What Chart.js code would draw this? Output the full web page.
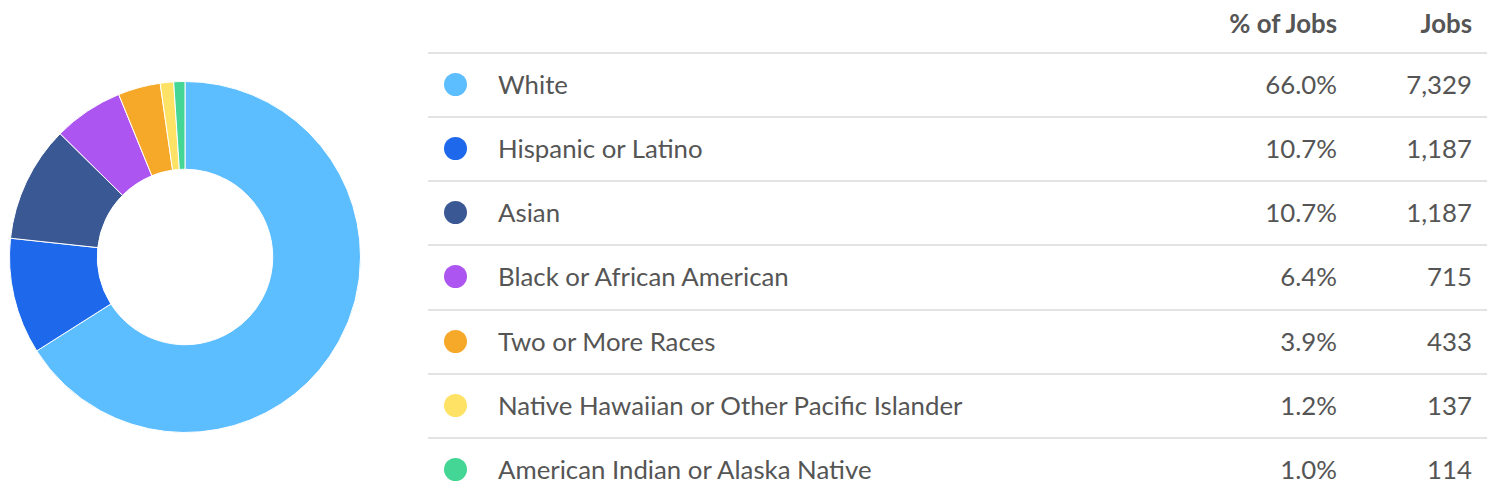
<!DOCTYPE html>
<html>
<head>
<meta charset="utf-8">
<script src="https://cdn.jsdelivr.net/npm/chart.js@4.4.0/dist/chart.umd.min.js"></script>
<style>
  html, body { margin: 0; padding: 0; background: #fff; width: 1497px; height: 499px; overflow: hidden; font-family: Lato, "Open Sans", sans-serif; color: #555; }
  #chartBox { position: absolute; left: 9px; top: 81px; width: 352px; height: 352px; }
  .line { position: absolute; left: 428px; width: 1059px; height: 2px; background: #e3e3e3; }
  .cell { position: absolute; font-size: 25.8px; line-height: 30px; white-space: nowrap; }
  .hdr { font-weight: bold; }
  .dot { position: absolute; width: 23px; height: 23px; border-radius: 50%; }
</style>
</head>
<body>
<div id="chartBox"><canvas id="c" width="352" height="352"></canvas></div>
<div id="table"></div>
<script>
const categories = ["White", "Hispanic or Latino", "Asian", "Black or African American", "Two or More Races", "Native Hawaiian or Other Pacific Islander", "American Indian or Alaska Native"];
const jobs = [7329, 1187, 1187, 715, 433, 137, 114];
const pctLabels = ["66.0%", "10.7%", "10.7%", "6.4%", "3.9%", "1.2%", "1.0%"];
const jobLabels = ["7,329", "1,187", "1,187", "715", "433", "137", "114"];
const headers = ["% of Jobs", "Jobs"];
const colors = ["#5cbdff", "#1e69eb", "#3a5894", "#ad55f0", "#f6a828", "#fee265", "#43d694"];

new Chart(document.getElementById('c'), {
  type: 'doughnut',
  data: { labels: categories, datasets: [{ data: jobs, backgroundColor: colors, borderColor: '#fff', borderWidth: 1 }] },
  options: {
    responsive: false, animation: false, cutout: '50%',
    layout: { padding: 0 },
    plugins: { legend: { display: false }, tooltip: { enabled: false } }
  }
});

const t = document.getElementById('table');
function add(cls, style, text) {
  const d = document.createElement('div');
  d.className = cls; Object.assign(d.style, style); if (text !== undefined) d.textContent = text; t.appendChild(d); return d;
}
add('cell hdr', { right: (1497 - 1337) + 'px', top: (24 - 16) + 'px' }, headers[0]);
add('cell hdr', { right: (1497 - 1472) + 'px', top: (24 - 16) + 'px' }, headers[1]);
const rowH = 64.25, firstLine = 51.5;
categories.forEach((cat, i) => {
  const ly = firstLine + i * rowH;
  add('line', { top: ly + 'px' });
  const cy = ly + 33;
  add('dot', { left: (455 - 11.5) + 'px', top: (cy - 12) + 'px', background: colors[i] });
  add('cell', { left: '498px', top: (cy - 16) + 'px' }, cat);
  add('cell', { right: (1497 - 1337) + 'px', top: (cy - 16) + 'px' }, pctLabels[i]);
  add('cell', { right: (1497 - 1472) + 'px', top: (cy - 16) + 'px' }, jobLabels[i]);
});
</script>
</body>
</html>
